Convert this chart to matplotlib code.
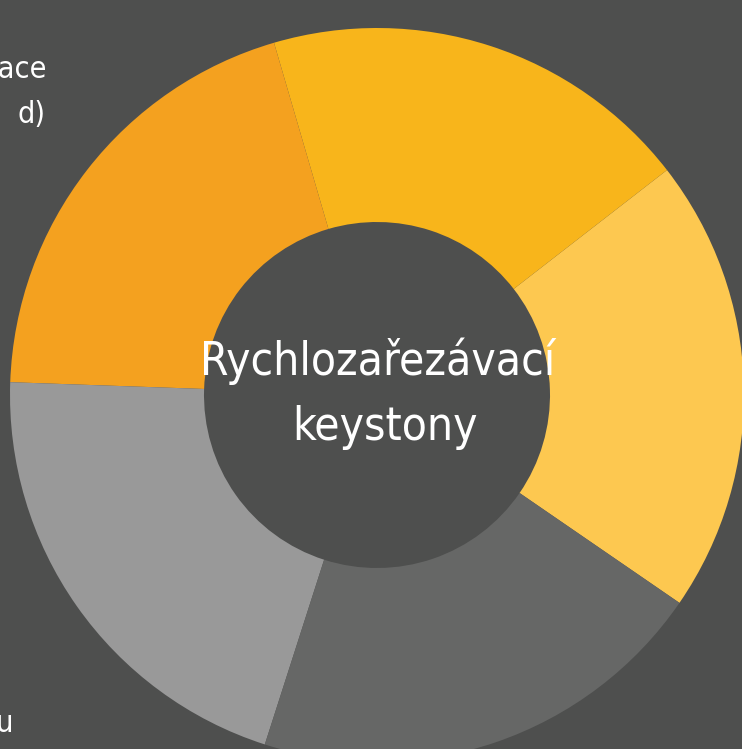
import matplotlib.pyplot as plt

labels = ['light yellow', 'yellow', 'orange', 'light gray', 'dark gray']
shares = [72.3, 68.5, 71.7, 74.2, 73.3]
colors = ['#FDC850', '#F8B51B', '#F4A11F', '#999999', '#666766']
start = -34.5

title_lines = ['Rychlozařezávací', 'keystony']
bg = '#4E4F4E'

fig = plt.figure(figsize=(7.42, 7.49), dpi=100, facecolor=bg)
ax = fig.add_axes([0, 0, 1, 1])
ax.set_facecolor(bg)

# pixel-like coordinates, origin bottom-left
ax.pie(shares, colors=colors, startangle=start, counterclock=True,
       center=(377, 354), radius=367, frame=True,
       wedgeprops=dict(width=194, linewidth=0))

ax.set_xlim(0, 742)
ax.set_ylim(0, 749)
ax.set_aspect('equal')
ax.axis('off')

cfont = dict(ha='center', va='baseline', color='white', fontsize=33,
             family='DejaVu Sans', stretch='condensed')
ax.text(378, 749 - 375, title_lines[0], **cfont)
ax.text(385, 749 - 440, title_lines[1], **cfont)

# labels cut off at the left edge (as in the source image)
fnt = dict(color='white', fontsize=22, family='DejaVu Sans',
           stretch='condensed', va='baseline', ha='right')
ax.text(47, 749 - 78, 'lace', **fnt)
ax.text(46, 749 - 123, 'd)', **fnt)
ax.text(13, 749 - 732, 'u', **fnt)

fig.savefig('out.png', dpi=100, facecolor=bg)
